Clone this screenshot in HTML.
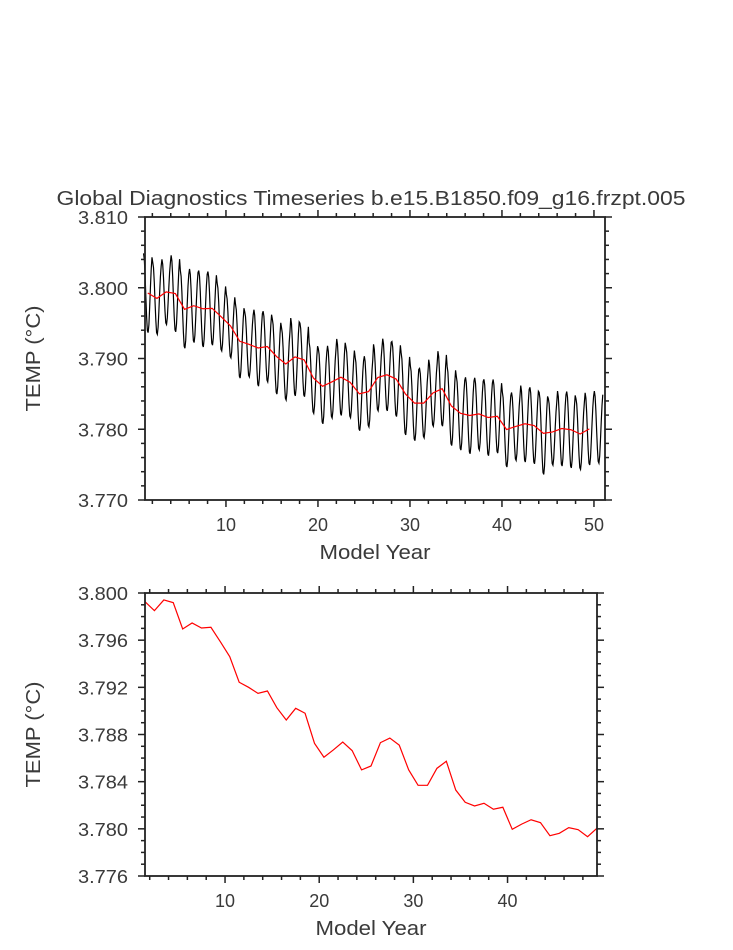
<!DOCTYPE html>
<html><head><meta charset="utf-8"><style>
body{margin:0;background:#fff;}
svg text{font-family:"Liberation Sans",sans-serif;fill:#3a3a3a;}
</style></head><body>
<svg id="chart" width="733" height="945" xmlns="http://www.w3.org/2000/svg"></svg>
<script>
const annualMean=[3.79926,3.7985,3.79941,3.79918,3.79695,3.79746,3.79703,3.79709,3.79587,3.7946,3.79243,3.7920,3.79149,3.79169,3.79027,3.78923,3.79022,3.7898,3.78725,3.78607,3.78669,3.78736,3.78663,3.7850,3.78533,3.78731,3.78770,3.7871,3.7850,3.78369,3.78369,3.78513,3.78573,3.78329,3.78225,3.78194,3.78217,3.78166,3.78183,3.77996,3.7804,3.78077,3.78052,3.77942,3.77962,3.78010,3.77993,3.77933,3.78005];
const lastYearMean=3.7803;
const seasonalAmp=[0.0056,0.0051,0.0046,0.0054,0.0055,0.0052,0.0054,0.0052,0.0048,0.0045,0.0052,0.0046,0.0054,0.0050,0.0053,0.0051,0.0055,0.0052,0.0050,0.0053,0.0051,0.0054,0.0050,0.0052,0.0050,0.0047,0.0051,0.0053,0.0058,0.0053,0.0049,0.0047,0.0053,0.0056,0.0052,0.0054,0.0051,0.0054,0.0052,0.0053,0.0048,0.0054,0.0054,0.0058,0.0047,0.0053,0.0054,0.0050,0.0051,0.0051];
const seasonShape=[1,0.85,0.45,-0.1,-0.6,-0.95,-1,-0.8,-0.35,0.15,0.6,0.9];
const topYTicks=["3.770","3.780","3.790","3.800","3.810"];
const botYTicks=["3.776","3.780","3.784","3.788","3.792","3.796","3.800"];
const topXTicks=[10,20,30,40,50];
const botXTicks=[10,20,30,40];

const svg=document.getElementById('chart');
const NS='http://www.w3.org/2000/svg';
function mk(tag,attrs,parent){const e=document.createElementNS(NS,tag);for(const k in attrs)e.setAttribute(k,attrs[k]);(parent||svg).appendChild(e);return e;}

function panel(o){
  const g=mk('g',{});
  
  
  const sx=v=>o.x0+(v-o.xd[0])/(o.xd[1]-o.xd[0])*(o.x1-o.x0);
  const sy=v=>o.y1-(v-o.yd[0])/(o.yd[1]-o.yd[0])*(o.y1-o.y0);
  for(let v=Math.ceil(o.xd[0]/o.xmin)*o.xmin;v<=o.xd[1]+1e-9;v+=o.xmin){
    const major=Math.abs(v/o.xmaj-Math.round(v/o.xmaj))<1e-6;const L=major?7:4;const x=sx(v);
    const t1=mk('line',{x1:x,x2:x,y1:o.y1,y2:o.y1+L,stroke:'#222','stroke-width':1.5},g);
    
    const t2=mk('line',{x1:x,x2:x,y1:o.y0,y2:o.y0-L,stroke:'#222','stroke-width':1.5},g);
    
  }
  const nmin=Math.round((o.yd[1]-o.yd[0])/o.ymin);
  for(let i=0;i<=nmin;i++){
    const v=o.yd[0]+i*o.ymin;const major=i%o.yper===0;const L=major?7:4;const y=sy(v);
    const t1=mk('line',{x1:o.x0,x2:o.x0-L,y1:y,y2:y,stroke:'#222','stroke-width':1.5},g);
    
    const t2=mk('line',{x1:o.x1,x2:o.x1+L,y1:y,y2:y,stroke:'#222','stroke-width':1.5},g);
    
  }
  o.yLabels.forEach((s,i)=>{const t=mk('text',{x:o.x0-17,y:sy(parseFloat(s))+7,'text-anchor':'end','font-size':18,textLength:50,lengthAdjust:'spacingAndGlyphs'},g);t.textContent=s;
    });
  o.xLabels.forEach(v=>{const t=mk('text',{x:sx(v),y:o.y1+31,'text-anchor':'middle','font-size':18,textLength:20,lengthAdjust:'spacingAndGlyphs'},g);t.textContent=v;
    });
  const xt=mk('text',{x:(o.x0+o.x1)/2,y:o.y1+59,'text-anchor':'middle','font-size':20,textLength:111,lengthAdjust:'spacingAndGlyphs'},g);xt.textContent='Model Year';
  
  const cy=(o.y0+o.y1)/2;
  const yt=mk('text',{x:40,y:cy,'text-anchor':'middle','font-size':20,textLength:106,lengthAdjust:'spacingAndGlyphs',transform:`rotate(-90 40 ${cy})`},g);yt.textContent='TEMP (°C)';
  
  o.series.forEach(s=>{
    const d=s.xs.map((x,i)=>(i?'L':'M')+sx(x).toFixed(2)+','+sy(s.ys[i]).toFixed(2)).join('');
    const p=mk('path',{d:d,fill:'none',stroke:s.color,'stroke-width':1.2},g);
    
  });
  const r=mk('rect',{x:o.x0,y:o.y0,width:o.x1-o.x0,height:o.y1-o.y0,fill:'none',stroke:'#222','stroke-width':1.8},g);
  
}

const mX=[],mY=[];
seasonalAmp.forEach((a,yi)=>{const mean=yi<annualMean.length?annualMean[yi]:lastYearMean;
  seasonShape.forEach((s,m)=>{mX.push(1+yi+(m+0.5)/12);mY.push(mean+a*s);});});
const aX=annualMean.map((v,i)=>i+1.5);

panel({name:'monthly-panel',x0:145,x1:605,y0:217,y1:500,xd:[1.2,51.2],yd:[3.770,3.810],xmin:2,xmaj:10,ymin:0.002,yper:5,
  yLabels:topYTicks,xLabels:topXTicks,
  series:[{name:'monthly-line',xs:mX,ys:mY,color:'#000'},{name:'annual-mean-line',xs:aX,ys:annualMean,color:'#f00'}]});
panel({name:'annual-panel',x0:145,x1:597,y0:593,y1:876,xd:[1.5,49.5],yd:[3.776,3.800],xmin:2,xmaj:10,ymin:0.001,yper:4,
  yLabels:botYTicks,xLabels:botXTicks,
  series:[{name:'annual-line',xs:aX,ys:annualMean,color:'#f00'}]});

const title=mk('text',{x:371,y:205,'text-anchor':'middle','font-size':20,textLength:629,lengthAdjust:'spacingAndGlyphs'});
title.textContent='Global Diagnostics Timeseries b.e15.B1850.f09_g16.frzpt.005';


</script>
</body></html>
